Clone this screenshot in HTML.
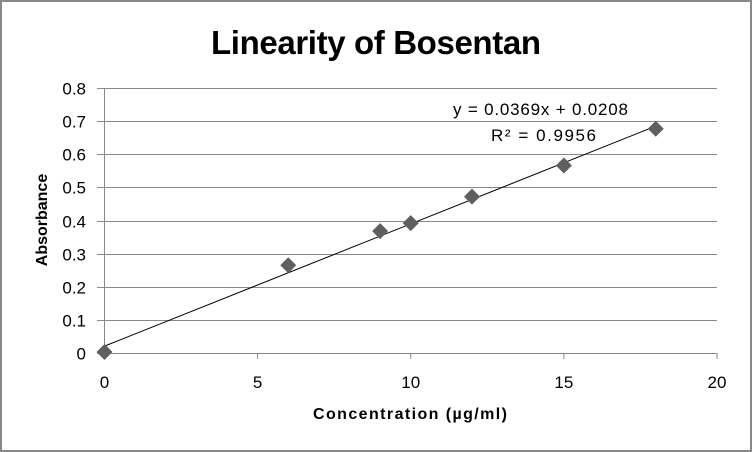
<!DOCTYPE html>
<html><head><meta charset="utf-8"><style>
html,body{margin:0;padding:0;background:#fff}
svg{display:block;font-family:"Liberation Sans",sans-serif}
</style></head><body>
<svg id="c" width="752" height="452">
<rect x="1" y="1" width="750" height="450" fill="#fff" stroke="#888" stroke-width="2"/>
<text x="376" y="54" text-anchor="middle" font-size="33" font-weight="bold" fill="#000" textLength="330">Linearity of Bosentan</text>
<g id="grid"></g><g id="ticks"></g><g id="marks"></g>
<text x="453" y="115" font-size="17" fill="#000" textLength="175">y = 0.0369x + 0.0208</text>
<text x="491" y="141" font-size="17" fill="#000" textLength="105">R² = 0.9956</text>
<text x="410" y="419" font-size="16" font-weight="bold" text-anchor="middle" textLength="194">Concentration (µg/ml)</text>
<text transform="translate(47,220) rotate(-90)" font-size="16" font-weight="bold" text-anchor="middle">Absorbance</text>
</svg>
<script>
const xValues=[0,6,9,10,12,15,18];
const yValues=[0.003,0.265,0.368,0.392,0.472,0.566,0.677];
const slope=0.0369, intercept=0.0208;
const xTicks=[0,5,10,15,20];
const yTicks=[0,0.1,0.2,0.3,0.4,0.5,0.6,0.7,0.8];
const X0=104.5,X1=717,Y0=353,Y1=88;
const sx=v=>X0+(v-0)/20*(X1-X0);
const sy=v=>Y0-(v/0.8)*(Y0-Y1);
const NS="http://www.w3.org/2000/svg";
function mk(t,a,p){const e=document.createElementNS(NS,t);for(const k in a)e.setAttribute(k,a[k]);p.appendChild(e);return e;}
const grid=document.getElementById('grid'),ticks=document.getElementById('ticks'),marks=document.getElementById('marks');
yTicks.forEach(v=>{
  const y=Math.round(sy(v))+0.5;
  const l=mk('line',{x1:97,x2:X1,y1:y,y2:y,stroke:'#888','stroke-width':1},grid);
  
  
  const t=mk('text',{x:86,y:y+6,'text-anchor':'end','font-size':17,fill:'#000'},ticks);
  t.textContent=String(v);
  
  
});
const ax=mk('line',{x1:X0,x2:X0,y1:Y1,y2:Y0+6,stroke:'#888','stroke-width':1},grid);


xTicks.forEach(v=>{
  const x=sx(v);
  const tk=mk('line',{x1:x,x2:x,y1:Y0,y2:Y0+6,stroke:'#888','stroke-width':1},grid);
  
  
  const t=mk('text',{x:x,y:388,'text-anchor':'middle','font-size':17,fill:'#000'},ticks);
  t.textContent=String(v);
  
  
});
const xmax=Math.max(...xValues);
const tl=mk('line',{x1:sx(0),y1:sy(intercept),x2:sx(xmax),y2:sy(slope*xmax+intercept),stroke:'#000','stroke-width':1},marks);


xValues.forEach((xv,i)=>{
  const cx=sx(xv),cy=sy(yValues[i]),r=8;
  const p=mk('polygon',{points:`${cx},${cy-r} ${cx+r},${cy} ${cx},${cy+r} ${cx-r},${cy}`,fill:'#5f5f5f'},marks);
  
  
});
</script>
</body></html>
